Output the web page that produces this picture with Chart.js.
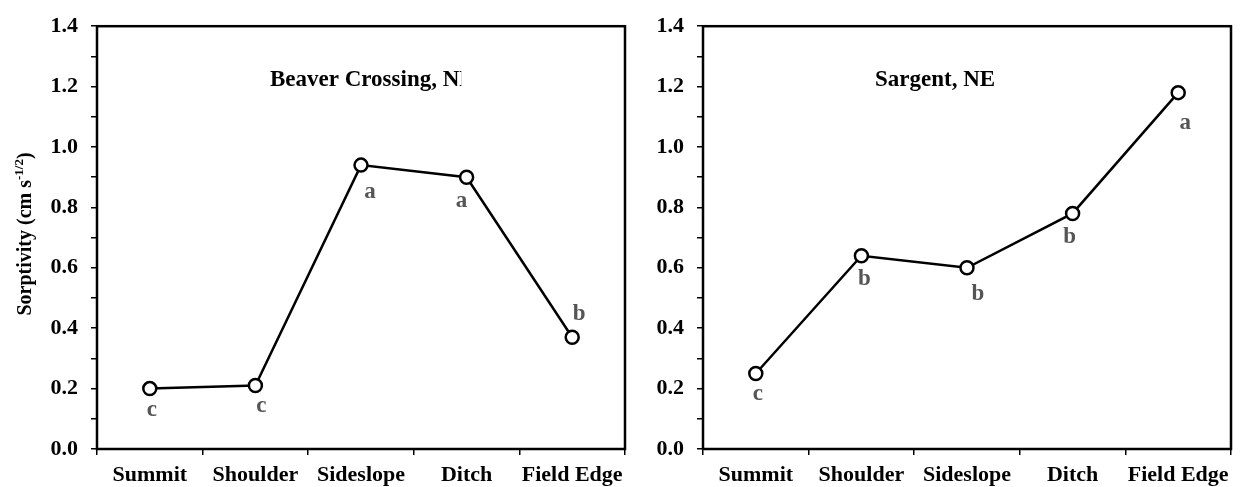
<!DOCTYPE html>
<html>
<head>
<meta charset="utf-8">
<script src="https://cdn.jsdelivr.net/npm/chart.js@4/dist/chart.umd.min.js"></script>
<style>
  body { margin: 0; background: #fff; }
  .box { position: absolute; top: 0; height: 487px; }
</style>
</head>
<body>
<div class="box" style="left:0;width:640px"><canvas id="Chart1"></canvas></div>
<div class="box" style="left:620px;width:620px"><canvas id="Chart2"></canvas></div>
<script>
const categories = ["Summit", "Shoulder", "Sideslope", "Ditch", "Field Edge"];
const beaverValues = [0.20, 0.21, 0.94, 0.90, 0.37];
const beaverLetters = ["c", "c", "a", "a", "b"];
const sargentValues = [0.25, 0.64, 0.60, 0.78, 1.18];
const sargentLetters = ["c", "b", "b", "b", "a"];
const yTickLabels = ["0.0", "0.2", "0.4", "0.6", "0.8", "1.0", "1.2", "1.4"];

const serif = "'Liberation Serif', 'Times New Roman', serif";

// where each letter sits relative to its point (px)
const beaverOffsets = [[2, 21], [6, 20], [9, 27], [-5, 24], [7, -23]];
const sargentOffsets = [[2, 21], [3, 23], [11, 26], [-3, 24], [7, 30]];

// box around plot + letters + site name
const decor = {
  id: "decor",
  afterDraw(chart, args, opts) {
    const ctx = chart.ctx;
    const a = chart.chartArea;
    ctx.save();
    ctx.strokeStyle = "#000";
    ctx.lineWidth = 2.5;
    ctx.strokeRect(a.left, a.top, a.right - a.left, a.bottom - a.top);

    ctx.font = "bold 23px " + serif;
    ctx.fillStyle = "#555";
    ctx.textAlign = "center";
    ctx.textBaseline = "middle";
    const meta = chart.getDatasetMeta(0);
    meta.data.forEach((pt, i) => {
      const off = opts.offsets[i];
      ctx.fillText(opts.letters[i], pt.x + off[0], pt.y + off[1]);
    });

    ctx.fillStyle = "#000";
    ctx.textAlign = "left";
    ctx.textBaseline = "alphabetic";
    if (opts.clipText) {
      const w = ctx.measureText(opts.clipText).width;
      ctx.beginPath();
      ctx.rect(opts.titleX, 0, w + 2, 200);
      ctx.clip();
    }
    ctx.fillText(opts.title, opts.titleX, 86);
    ctx.restore();
  }
};

const yTitle = {
  id: "yTitle",
  afterDraw(chart) {
    const ctx = chart.ctx;
    ctx.save();
    ctx.translate(31, 234);
    ctx.rotate(-Math.PI / 2);
    ctx.fillStyle = "#000";
    ctx.textBaseline = "alphabetic";
    const main = "Sorptivity (cm s";
    const sup = "-1/2";
    const end = ")";
    ctx.font = "bold 20px " + serif;
    const w1 = ctx.measureText(main).width;
    const w3 = ctx.measureText(end).width;
    ctx.font = "bold 13px " + serif;
    const w2 = ctx.measureText(sup).width;
    let x = -(w1 + w2 + w3) / 2;
    ctx.font = "bold 20px " + serif;
    ctx.fillText(main, x, 0);
    x += w1;
    ctx.font = "bold 13px " + serif;
    ctx.fillText(sup, x, -8);
    x += w2;
    ctx.font = "bold 20px " + serif;
    ctx.fillText(end, x, 0);
    ctx.restore();
  }
};

function makeChart(id, values, letters, offsets, title, titleX, clipText, yWidth, padRight, extra) {
  const ctx = document.getElementById(id).getContext("2d");
  return new Chart(ctx, {
    type: "line",
    data: {
      labels: categories,
      datasets: [{
        data: values,
        borderColor: "#000",
        borderWidth: 2.5,
        pointRadius: 6.5,
        pointBorderWidth: 2.5,
        pointBackgroundColor: "#fff",
        pointBorderColor: "#000",
        tension: 0
      }]
    },
    options: {
      responsive: true,
      maintainAspectRatio: false,
      animation: false,
      layout: { padding: { top: 23, right: padRight, bottom: 0, left: 0 } },
      plugins: {
        legend: { display: false },
        tooltip: { enabled: false },
        decor: { letters: letters, offsets: offsets, title: title, titleX: titleX, clipText: clipText }
      },
      scales: {
        x: {
          offset: true,
          grid: { offset: true, drawOnChartArea: false, drawTicks: true, tickLength: 6, color: "#000", lineWidth: 1.5 },
          border: { display: false },
          ticks: { color: "#000", font: { family: serif, size: 22, weight: "bold" }, padding: 7, maxRotation: 0, autoSkip: false },
          afterFit(scale) { scale.height = 38; }
        },
        y: {
          min: 0,
          max: 1.4,
          grid: { drawOnChartArea: false, drawTicks: true, tickLength: 6, color: "#000", lineWidth: 1.5 },
          border: { display: false },
          ticks: {
            stepSize: 0.1,
            autoSkip: false,
            color: "#000",
            padding: 13,
            font: { family: serif, size: 22, weight: "bold" },
            callback: (v, i) => (i % 2 === 0 ? yTickLabels[i / 2] : "")
          },
          afterFit(scale) { scale.width = yWidth; }
        }
      }
    },
    plugins: [decor].concat(extra)
  });
}

makeChart("Chart1", beaverValues, beaverLetters, beaverOffsets,
  "Beaver Crossing, NE", 270, "Beaver Crossing, N", 97, 15, [yTitle]);
makeChart("Chart2", sargentValues, sargentLetters, sargentOffsets,
  "Sargent, NE", 255, null, 83, 8, []);
</script>
</body>
</html>
